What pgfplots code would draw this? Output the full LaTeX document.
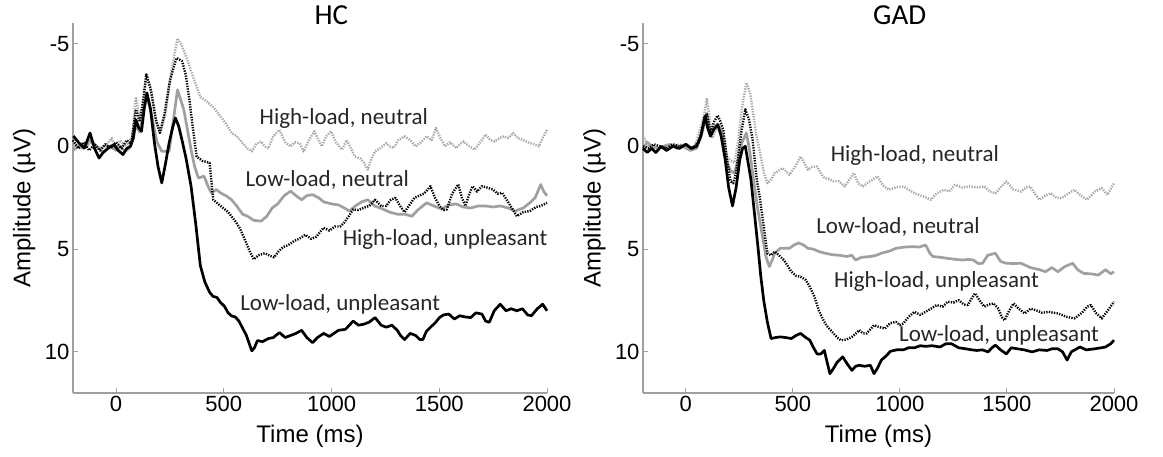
\documentclass[border=0pt]{standalone}
\usepackage{fontspec}
\setmainfont{Liberation Sans}
\newfontfamily\carlito{Carlito}
\usepackage{pgfplots}
\pgfplotsset{compat=1.18}
\definecolor{lgray}{HTML}{A8A8A8}
\definecolor{mgray}{HTML}{A0A0A0}
\definecolor{axgray}{HTML}{A0A0A0}

\pgfplotsset{
  erp/.style={
    scale only axis, height=370pt,
    xmin=-200, xmax=2000, ymin=-6, ymax=12, y dir=reverse,
    axis x line*=bottom, axis y line*=left,
    axis line style={axgray, line width=1.3pt, -},
    xtick={0,500,1000,1500,2000}, ytick={-5,0,5,10},
    tick style={axgray, line width=1pt}, major tick length=5pt, tick align=inside,
    ticklabel style={font=\fontsize{22}{22}\selectfont},
    /pgf/number format/assume math mode=true,
    /pgf/number format/set thousands separator={},
    xlabel={Time (ms)}, ylabel={Amplitude (µV)},
    label style={font=\fontsize{24}{24}\selectfont},
    xlabel style={at={(axis description cs:0.5,-0.117)}, anchor=center},
    ylabel style={at={(axis description cs:-0.103,0.5)}, anchor=center},
    title style={at={(axis description cs:0.545,1.005)}, anchor=center, font=\carlito\fontsize{29}{29}\selectfont},
    clip=false,
    every axis plot/.append style={line join=round},
  },
  hn/.style={lgray, line width=2.4pt, dash pattern=on 1.3pt off 1.3pt},
  ln/.style={mgray, line width=2.7pt},
  hu/.style={black, line width=2.4pt, dash pattern=on 1.3pt off 1.3pt},
  lu/.style={black, line width=2.7pt},
}
\tikzset{lab/.style={font=\carlito\fontsize{23}{23}\selectfont, text=black!85}}

\begin{document}
\begin{tikzpicture}
\path[use as bounding box] (0,0) rectangle (1163pt,456pt);

% HC
\begin{axis}[erp, at={(73pt,63pt)}, anchor=south west, width=474pt, title={HC}]
\addplot[hn] coordinates {(-200,-0.2)(-170,0.1)(-140,0.0)(-110,-0.2)(-80,0.1)(-50,0.0)(-20,-0.4)(0,0.1)(20,-0.3)(40,0.0)(60,-0.2)(75,-0.5)(92,-2.4)(110,-1.3)(125,-2.0)(143,-3.5)(165,-2.6)(185,-1.2)(207,-0.7)(230,-1.6)(255,-3.6)(285,-5.25)(305,-4.9)(331,-4.2)(360,-3.3)(391,-2.4)(420,-2.2)(451,-1.9)(485,-1.45)(510,-1.1)(536,-0.65)(560,-0.5)(587,-0.16)(610,0.1)(630,0.24)(650,-0.1)(673,-0.24)(690,0.0)(707,0.1)(730,-0.5)(758,-0.8)(785,-0.2)(810,0.0)(830,-0.2)(852,-0.15)(870,0.25)(895,-0.3)(920,-0.73)(940,-0.3)(955,0.0)(975,-0.5)(997,-0.73)(1020,-0.2)(1049,0.16)(1070,-0.3)(1090,0.1)(1108,0.49)(1135,0.6)(1150,0.8)(1168,1.13)(1185,0.6)(1202,0.24)(1225,0.1)(1254,-0.16)(1270,0.0)(1288,0.08)(1310,-0.3)(1339,-0.49)(1365,-0.3)(1390,0.0)(1415,-0.2)(1441,-0.49)(1465,-0.3)(1484,-0.89)(1505,-0.4)(1527,0.0)(1550,-0.2)(1578,0.08)(1595,-0.1)(1612,-0.24)(1640,0.0)(1664,0.16)(1690,-0.2)(1715,-0.57)(1737,-0.3)(1757,-0.24)(1780,-0.4)(1800,-0.49)(1820,-0.4)(1843,-0.65)(1865,-0.4)(1886,-0.32)(1910,-0.2)(1940,-0.1)(1962,0.0)(1980,-0.4)(2000,-0.8)};
\addplot[ln] coordinates {(-200,0.2)(-175,0.0)(-150,0.1)(-120,-0.3)(-90,0.0)(-60,0.3)(-30,0.0)(0,0.2)(20,0.0)(41,0.24)(60,0.1)(75,-0.3)(92,-1.0)(110,-0.7)(125,-1.6)(143,-2.5)(165,-1.5)(190,-0.2)(212,0.24)(246,0.24)(265,-1.2)(285,-2.75)(314,-1.8)(348,0.16)(365,1.0)(382,1.54)(408,1.45)(425,1.9)(442,2.27)(465,2.1)(485,2.27)(510,2.4)(536,2.6)(560,2.9)(587,3.3)(610,3.4)(639,3.6)(673,3.64)(700,3.4)(724,3.0)(750,2.8)(780,2.4)(810,2.18)(835,2.4)(861,2.6)(885,2.4)(912,2.35)(940,2.5)(963,2.7)(1000,2.8)(1032,2.85)(1060,3.0)(1083,3.15)(1110,2.9)(1140,2.7)(1168,2.6)(1200,2.9)(1237,3.05)(1270,3.2)(1305,3.3)(1340,3.3)(1373,3.4)(1400,3.1)(1441,2.75)(1475,2.9)(1510,3.05)(1545,2.85)(1578,2.8)(1610,2.95)(1646,3.0)(1680,2.9)(1715,2.9)(1750,2.95)(1783,2.9)(1820,3.0)(1851,3.15)(1890,3.0)(1920,2.75)(1945,2.5)(1971,1.86)(1985,2.2)(2000,2.4)};
\addplot[hu] coordinates {(-200,-0.3)(-175,0.1)(-150,-0.2)(-125,0.2)(-100,-0.1)(-75,0.2)(-50,-0.1)(-25,0.1)(0,-0.2)(25,0.1)(50,-0.3)(70,-0.1)(92,-1.8)(110,-1.2)(125,-2.2)(140,-3.5)(160,-2.8)(185,-1.3)(203,-0.65)(225,-1.6)(250,-3.2)(280,-4.3)(306,-4.15)(323,-3.5)(340,-2.3)(355,-1.0)(374,0.5)(400,0.7)(434,0.8)(451,2.6)(485,2.9)(520,3.2)(553,3.64)(575,4.0)(596,4.5)(620,5.1)(639,5.5)(660,5.3)(690,5.2)(710,5.3)(733,5.4)(755,5.1)(775,4.9)(800,4.8)(827,4.6)(850,4.5)(878,4.3)(905,4.5)(929,4.4)(963,3.96)(990,4.1)(1015,3.9)(1040,3.9)(1057,3.73)(1080,3.4)(1100,3.07)(1125,3.1)(1151,2.98)(1175,2.9)(1202,2.6)(1230,2.9)(1254,2.9)(1275,2.6)(1296,2.5)(1318,2.9)(1339,3.2)(1365,2.8)(1385,2.5)(1407,2.4)(1430,2.3)(1459,1.94)(1480,2.5)(1501,2.9)(1520,3.1)(1535,3.07)(1560,2.3)(1588,1.85)(1605,2.5)(1621,2.9)(1640,2.3)(1655,1.94)(1675,2.2)(1698,1.94)(1720,2.0)(1749,2.1)(1770,2.3)(1792,2.26)(1825,2.8)(1860,3.4)(1890,3.2)(1920,3.15)(1950,2.95)(1971,2.9)(2000,2.75)};
\addplot[lu] coordinates {(-198,-0.5)(-172,-0.16)(-147,0.08)(-121,-0.65)(-100,0.1)(-79,0.57)(-60,0.3)(-44,0.16)(-25,0.0)(-10,-0.08)(10,0.2)(32,0.4)(50,0.1)(67,0.0)(80,-0.4)(92,-1.3)(105,-0.9)(118,-0.73)(130,-1.8)(143,-2.6)(160,-1.8)(178,-0.16)(195,1.0)(212,1.78)(230,0.8)(246,-0.16)(262,-0.9)(275,-1.38)(290,-1.0)(306,-0.3)(325,0.6)(348,1.94)(370,3.8)(391,5.8)(412,6.6)(434,7.1)(450,7.3)(468,7.35)(485,7.6)(502,7.77)(520,8.1)(536,8.25)(553,8.3)(570,8.5)(590,8.9)(605,9.2)(618,9.6)(630,9.95)(642,9.8)(656,9.45)(680,9.5)(707,9.35)(730,9.3)(758,9.06)(785,9.3)(810,9.2)(835,9.1)(861,8.95)(885,9.3)(912,9.55)(935,9.3)(963,9.1)(990,9.25)(1032,8.95)(1065,8.9)(1100,8.5)(1125,8.7)(1151,8.65)(1175,8.55)(1202,8.33)(1230,8.7)(1254,8.8)(1280,8.7)(1305,8.95)(1320,9.2)(1339,9.4)(1365,9.1)(1390,9.2)(1410,9.4)(1424,9.4)(1440,9.0)(1459,8.8)(1480,8.6)(1501,8.33)(1520,8.2)(1544,8.16)(1570,8.4)(1595,8.24)(1620,8.3)(1646,8.33)(1670,8.1)(1698,8.16)(1715,8.5)(1732,8.56)(1755,8.0)(1783,7.68)(1810,8.0)(1834,7.9)(1860,8.0)(1886,7.9)(1910,8.2)(1928,8.24)(1955,7.9)(1980,7.68)(2000,8.0)};
\node[lab] at (axis cs:1057,-1.37) {High-load, neutral};
\node[lab] at (axis cs:980,1.62) {Low-load, neutral};
\node[lab] at (axis cs:1527,4.52) {High-load, unpleasant};
\node[lab] at (axis cs:1040,7.67) {Low-load, unpleasant};
\end{axis}

% GAD
\begin{axis}[erp, at={(643pt,63pt)}, anchor=south west, width=471pt, title={GAD}]
\addplot[hn] coordinates {(-200,-0.5)(-185,-0.2)(-170,0.1)(-150,0.0)(-120,0.1)(-90,-0.1)(-60,0.0)(-30,-0.1)(0,0.1)(21,0.16)(45,-0.1)(72,-1.0)(85,-1.5)(98,-2.3)(112,-1.3)(124,-0.4)(140,-0.8)(158,-1.1)(175,-0.5)(192,0.5)(210,0.7)(227,0.8)(245,-0.3)(261,-1.8)(283,-3.1)(300,-2.6)(312,-1.8)(330,-0.5)(347,0.33)(365,1.3)(381,1.79)(400,1.6)(415,1.3)(432,1.2)(450,1.06)(467,1.2)(484,1.38)(510,1.0)(536,0.5)(553,0.8)(570,1.14)(590,1.0)(613,0.98)(630,1.3)(647,1.54)(670,1.6)(690,1.7)(715,1.7)(742,1.95)(765,1.6)(785,1.3)(805,1.8)(827,1.95)(860,1.7)(896,1.46)(920,1.9)(948,2.11)(980,2.0)(1016,1.95)(1040,2.1)(1068,2.28)(1100,2.4)(1125,2.5)(1145,2.6)(1170,2.3)(1205,2.11)(1230,2.2)(1257,1.87)(1290,2.0)(1325,1.95)(1360,2.0)(1394,1.95)(1420,2.2)(1446,2.28)(1470,2.0)(1497,1.71)(1530,2.1)(1566,2.2)(1590,2.0)(1609,1.95)(1630,2.3)(1652,2.6)(1680,2.4)(1704,2.28)(1730,2.5)(1755,2.52)(1785,2.3)(1815,2.11)(1845,2.4)(1875,2.6)(1910,2.2)(1943,2.03)(1969,2.36)(2000,1.79)};
\addplot[ln] coordinates {(-200,0.1)(-180,-0.2)(-160,0.0)(-130,0.1)(-100,0.0)(-70,-0.1)(-40,0.1)(-10,0.0)(20,0.2)(50,0.1)(72,-0.5)(98,-1.6)(115,-0.73)(130,-0.9)(149,-1.1)(170,-0.5)(192,0.8)(210,1.2)(227,1.3)(245,0.6)(261,-0.16)(283,-0.65)(298,0.2)(312,1.3)(335,3.0)(355,4.2)(375,5.4)(390,5.85)(405,5.5)(415,5.2)(441,4.96)(465,4.96)(484,4.96)(505,4.8)(527,4.7)(550,4.8)(570,4.96)(595,5.0)(622,5.12)(650,5.2)(690,5.28)(720,5.3)(750,5.36)(775,5.3)(793,5.53)(820,5.4)(862,5.36)(890,5.3)(913,5.2)(950,5.1)(982,4.96)(1020,4.9)(1059,4.88)(1090,4.9)(1120,4.8)(1140,5.2)(1154,5.36)(1190,5.4)(1223,5.45)(1260,5.5)(1291,5.53)(1320,5.5)(1343,5.53)(1365,5.7)(1386,5.69)(1410,5.3)(1446,5.2)(1470,5.6)(1497,5.69)(1530,5.7)(1566,5.69)(1610,5.9)(1652,6.0)(1680,6.1)(1710,5.9)(1738,6.1)(1770,5.85)(1807,5.69)(1830,6.0)(1858,6.18)(1890,6.2)(1927,6.26)(1960,6.0)(1985,6.2)(2000,6.1)};
\addplot[hu] coordinates {(-200,0.0)(-175,0.1)(-150,-0.1)(-120,0.0)(-90,0.1)(-60,-0.1)(-30,0.0)(0,-0.1)(30,0.1)(60,-0.2)(80,-0.9)(98,-1.6)(115,-0.65)(132,-1.2)(149,-1.5)(162,-1.2)(175,-0.8)(192,0.6)(209,1.7)(222,1.8)(235,1.3)(248,0.2)(261,-0.8)(278,-1.8)(295,-1.3)(312,-0.33)(330,1.5)(347,2.6)(365,4.0)(381,5.2)(398,5.3)(415,5.12)(435,5.3)(458,5.53)(475,5.8)(493,6.1)(515,6.3)(536,6.34)(560,6.5)(579,6.83)(600,7.3)(622,8.0)(640,8.4)(656,8.7)(672,8.9)(690,9.1)(707,9.3)(724,9.43)(750,9.4)(776,9.27)(795,9.1)(810,8.94)(828,9.1)(845,9.1)(862,8.9)(879,8.7)(905,8.8)(930,8.86)(955,8.6)(982,8.54)(1000,8.7)(1016,8.62)(1040,8.3)(1068,8.05)(1095,8.2)(1120,8.05)(1145,7.9)(1172,7.72)(1200,7.8)(1223,7.56)(1250,7.6)(1274,7.48)(1300,7.7)(1317,7.72)(1335,7.4)(1351,7.15)(1372,7.5)(1394,7.8)(1415,7.7)(1437,7.64)(1460,7.9)(1475,8.3)(1489,8.46)(1510,8.0)(1531,7.64)(1555,7.9)(1583,8.13)(1610,7.9)(1635,7.97)(1665,8.1)(1695,8.05)(1720,8.1)(1738,8.13)(1780,8.3)(1815,8.37)(1850,8.1)(1875,7.8)(1892,7.72)(1915,8.1)(1943,8.37)(1970,8.0)(2000,7.56)};
\addplot[lu] coordinates {(-200,0.1)(-180,0.3)(-160,0.1)(-140,0.3)(-115,0.0)(-90,0.2)(-60,0.0)(-30,0.1)(0,-0.1)(25,0.1)(50,0.0)(70,-0.5)(89,-1.46)(102,-0.9)(115,-0.5)(130,-0.8)(149,-1.05)(165,-0.5)(184,0.65)(200,2.0)(218,2.9)(235,2.0)(252,0.65)(265,0.1)(278,0.0)(291,0.8)(304,1.6)(320,3.2)(338,5.0)(350,6.3)(364,7.5)(380,8.5)(398,9.35)(420,9.3)(441,9.27)(465,9.3)(493,9.35)(515,9.2)(536,9.1)(560,9.3)(579,9.43)(597,9.8)(613,10.1)(630,10.1)(647,9.93)(660,10.5)(673,11.06)(690,10.8)(707,10.5)(733,10.24)(755,10.6)(776,10.9)(793,10.7)(810,10.65)(835,10.7)(862,10.65)(879,11.06)(895,10.8)(913,10.4)(935,10.2)(956,9.97)(985,9.9)(1016,9.9)(1040,9.8)(1068,9.8)(1095,9.7)(1120,9.73)(1150,9.7)(1188,9.76)(1215,9.6)(1240,9.6)(1275,9.8)(1308,9.85)(1335,9.9)(1360,9.93)(1385,9.9)(1412,10.0)(1430,9.8)(1446,9.67)(1470,9.9)(1497,10.1)(1520,9.8)(1549,9.85)(1580,9.9)(1618,10.0)(1650,9.9)(1687,9.93)(1710,9.85)(1738,9.85)(1760,10.0)(1781,10.4)(1800,10.0)(1841,9.76)(1870,9.9)(1910,9.85)(1940,9.8)(1961,9.76)(1985,9.6)(2000,9.43)};
\node[lab] at (axis cs:1070,0.46) {High-load, neutral};
\node[lab] at (axis cs:991,3.9) {Low-load, neutral};
\node[lab] at (axis cs:1171,6.59) {High-load, unpleasant};
\node[lab] at (axis cs:1463,9.19) {Low-load, unpleasant};
\end{axis}
\end{tikzpicture}
\end{document}
